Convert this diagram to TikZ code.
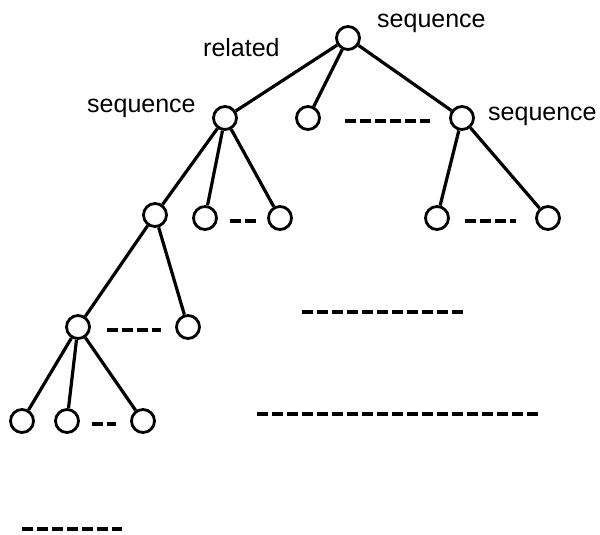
\documentclass[tikz,border=0pt]{standalone}
\usepackage{fontspec}
\setmainfont{Liberation Sans}
\usetikzlibrary{%
    calc,
    positioning
}
\tikzset{
    vertex/.style={circle, draw, line width=2.8pt, minimum size=23pt, inner sep=0pt},
    branch/.style={line width=3.2pt},
    etc/.style={line width=3.8pt, dash pattern=on 11pt off 4pt},
    tag/.style={font=\fontsize{25}{30}\selectfont, anchor=base west, inner sep=0pt}
}

\begin{document}
\begin{tikzpicture}[x=1pt, y=-1pt]
    \useasboundingbox (0,0) rectangle (600,535);

    \foreach \Name/\X/\Y in {%
        root/348/38,
        seqL/225/118, mid/308/118, seqR/462/118,
        seqRa/437/218, seqRb/548/218,
        sub/155/215, subA/205/218, subB/280/218,
        deep/78/327, deepR/188/327,
        leafA/22/421, leafB/67/421, leafC/143/421%
        }
        \node[vertex] (\Name) at (\X,\Y) {};

    \node[tag] (tagTop)   at (377,28)  {sequence};
    \node[tag] (tagRel)   at (203,57)  {related};
    \node[tag] (tagLeft)  at (87,112)  {sequence};
    \node[tag] (tagRight) at (488,120) {sequence};

    \foreach \Source/\Target in {%
        root/seqL,
        root/mid,
        root/seqR,
        seqR/seqRa,
        seqR/seqRb,
        seqL/sub,
        seqL/subA,
        seqL/subB,
        sub/deep,
        sub/deepR,
        deep/leafA,
        deep/leafB,
        deep/leafC%
        }
        \draw[branch] (\Source) to (\Target);

    % elided siblings
    \foreach \Source/\Target/\A/\B in {%
        mid/seqR/24/19,
        seqRa/seqRb/15/19,
        subA/subB/12/11,
        deep/deepR/16/14,
        leafB/leafC/12/14%
        }
        \draw[etc] ([xshift=\A pt, yshift=-3pt]\Source.east) -- ([xshift=-\B pt, yshift=-3pt]\Target.west);

    % elided levels
    \coordinate (restA) at (302,312);
    \coordinate (restB) at (465,312);
    \coordinate (moreA) at (257,414);
    \coordinate (moreB) at (538,414);
    \coordinate (lastA) at (22,529);
    \coordinate (lastB) at (122,529);
    \draw[etc] (restA) -- (restB);
    \draw[etc] (moreA) -- (moreB);
    \draw[etc] (lastA) -- (lastB);
\end{tikzpicture}
\end{document}
